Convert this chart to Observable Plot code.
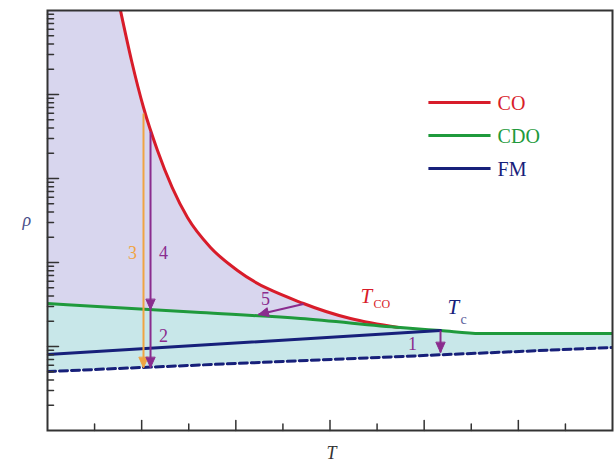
<!DOCTYPE html>
<html><head><meta charset="utf-8">
<script src="https://cdn.jsdelivr.net/npm/d3@7"></script>
<script src="https://cdn.jsdelivr.net/npm/@observablehq/plot@0.6"></script>
<style>body{margin:0;background:#fff}#chart{width:614px;height:467px}</style>
</head><body><div id="chart"></div>
<script>
// CO boundary (T_CO curve)
const coT   = [1.55, 1.784, 2.039, 2.336, 2.973, 3.462, 4.035, 5.437, 6.435, 7.455];
const coRho = [100000, 25400, 7000, 2154, 343, 151, 80.3, 32.5, 21.5, 16.8];
// CDO boundary
const cdoT   = [0, 3.248, 5.372, 7.495, 8.344, 9.193, 12];
const cdoRho = [32.5, 25.4, 21.5, 16.8, 15.5, 14.3, 14.3];
// FM boundary (solid up to Tc) and dashed continuation
const fmT   = [0, 8.344];
const fmRho = [8.03, 15.5];
const fmDashT   = [0, 12];
const fmDashRho = [5.04, 9.73];
// legend
const legendNames  = ["CO", "CDO", "FM"];
const legendColors = ["#d81c2a", "#1f9a3c", "#17207a"];
const legendRho    = [8030, 3250, 1316];
const legendT      = [8.09, 9.41, 9.56];
// arrows (process paths)
const arrowIds   = ["3", "4a", "4b", "5", "1"];
const arrowT1    = [2.039, 2.188, 2.188, 5.437, 8.347];
const arrowRho1  = [5940, 3600, 27.6, 32.0, 15.5];
const arrowT2    = [2.039, 2.188, 2.188, 4.481, 8.347];
const arrowRho2  = [5.62, 27.6, 5.62, 24.0, 8.48];
const arrowColor = ["#f0a442", "#8a2c8e", "#8a2c8e", "#8a2c8e", "#8a2c8e"];
const arrowRot   = [180, 180, 180, 256, 180];
// numbered labels
const numText = ["3", "4", "2", "1", "5"];
const numT    = [1.805, 2.464, 2.464, 7.752, 4.63];
const numRho  = [128, 128, 13.2, 10.6, 36.3];
const numCol  = ["#f0a442", "#8a2c8e", "#8a2c8e", "#8a2c8e", "#8a2c8e"];
// ticks
const xMajor = [2, 4, 6, 8, 10];
const xMinor = [1, 3, 5, 7, 9, 11];
const yMajor = [10, 100, 1000, 10000];
const yMinor = [];
for (const k of [1, 10, 100, 1000, 10000]) for (const m of [2,3,4,5,6,7,8,9]) yMinor.push(m * k);

const co = coT.map((t, i) => ({T: t, rho: coRho[i]}));
const lav = [{T: 0, rho: 100000}, ...co];
const cdo = cdoT.map((t, i) => ({T: t, rho: cdoRho[i]}));
const fm = fmT.map((t, i) => ({T: t, rho: fmRho[i]}));
const fmDash = fmDashT.map((t, i) => ({T: t, rho: fmDashRho[i]}));
const arrows = arrowIds.map((id, i) => ({id, x1: arrowT1[i], y1: arrowRho1[i], x2: arrowT2[i], y2: arrowRho2[i], c: arrowColor[i], r: arrowRot[i]}));
const nums = numText.map((t, i) => ({t, x: numT[i], y: numRho[i], c: numCol[i]}));
const legend = legendNames.map((n, i) => ({n, c: legendColors[i], y: legendRho[i]}));

const serif = "'Liberation Serif', 'Times New Roman', serif";
const lineShape = {draw(ctx, l) { ctx.moveTo(0, 0); ctx.lineTo(0, -l); }};
const triShape = {draw(ctx, l, r) { ctx.moveTo(-r, 0); ctx.lineTo(0, -l); ctx.lineTo(r, 0); ctx.closePath(); }};

const chart = Plot.plot({
  width: 614, height: 467,
  marginLeft: 47, marginRight: 2, marginTop: 10, marginBottom: 37,
  x: {domain: [0, 12], axis: null},
  y: {type: "log", domain: [1, 100000], axis: null},
  marks: [
    Plot.areaY(lav, {x: "T", y1: 1, y2: "rho", fill: "#d8d6ee", curve: "monotone-x", clip: true}),
    Plot.areaY(cdo, {x: "T", y1: 1, y2: "rho", fill: "#c8e7e9", curve: "monotone-x", clip: true}),
    Plot.areaY(fmDash, {x: "T", y1: 1, y2: "rho", fill: "#ffffff", clip: true}),
    Plot.line(co, {x: "T", y: "rho", stroke: "#d81c2a", strokeWidth: 3, curve: "monotone-x", clip: true}),
    Plot.line(cdo, {x: "T", y: "rho", stroke: "#1f9a3c", strokeWidth: 3, curve: "monotone-x", clip: true}),
    Plot.line(fm, {x: "T", y: "rho", stroke: "#17207a", strokeWidth: 3, clip: true}),
    Plot.line(fmDash, {x: "T", y: "rho", stroke: "#17207a", strokeWidth: 3, strokeDasharray: "8,4", clip: true}),
    // arrows
    Plot.link(arrows, {x1: "x1", y1: "y1", x2: "x2", y2: "y2", stroke: "c", strokeWidth: 2}),
    Plot.vector(arrows, {x: "x2", y: "y2", rotate: "r", length: 10, r: 4.5, anchor: "end", shape: triShape, fill: "c", stroke: "c", strokeWidth: 1}),
    // numbers
    Plot.text(nums, {x: "x", y: "y", text: "t", fill: "c", fontSize: 18, fontFamily: serif}),
    // T_CO
    Plot.text(["T"], {x: 6.648, y: 39.4, text: d => d, textAnchor: "start", fill: "#d81c2a", fontSize: 21, fontStyle: "italic", fontFamily: serif}),
    Plot.text(["CO"], {x: 6.924, y: 31.6, text: d => d, textAnchor: "start", fill: "#d81c2a", fontSize: 12, fontFamily: serif}),
    // T_c
    Plot.text(["T"], {x: 8.496, y: 29.1, text: d => d, textAnchor: "start", fill: "#17207a", fontSize: 21, fontStyle: "italic", fontFamily: serif}),
    Plot.text(["c"], {x: 8.772, y: 21.2, text: d => d, textAnchor: "start", fill: "#5a5d9a", fontSize: 14, fontFamily: serif}),
    // legend
    Plot.link(legend, {x1: legendT[0], x2: legendT[1], y1: "y", y2: "y", stroke: "c", strokeWidth: 3}),
    Plot.text(legend, {x: legendT[2], y: "y", text: "n", fill: "c", textAnchor: "start", fontSize: 20, fontFamily: serif, dy: 1}),
    // ticks
    Plot.vector(xMajor, {x: d => d, frameAnchor: "bottom", rotate: 0, length: 10, anchor: "start", shape: lineShape, stroke: "#333", strokeWidth: 1.5}),
    Plot.vector(xMinor, {x: d => d, frameAnchor: "bottom", rotate: 0, length: 6.5, anchor: "start", shape: lineShape, stroke: "#333", strokeWidth: 1.5}),
    Plot.vector(yMajor, {y: d => d, frameAnchor: "left", rotate: 90, length: 11, anchor: "start", shape: lineShape, stroke: "#333", strokeWidth: 1.5}),
    Plot.vector(yMinor, {y: d => d, frameAnchor: "left", rotate: 90, length: 6, anchor: "start", shape: lineShape, stroke: "#333", strokeWidth: 1.5}),
    Plot.frame({stroke: "#333", strokeWidth: 2}),
    // axis labels
    Plot.text(["T"], {x: 6.032, frameAnchor: "bottom", dy: 28, text: d => d, fontSize: 18, fontStyle: "italic", fontFamily: serif, fill: "#333"}),
    Plot.text(["ρ"], {frameAnchor: "left", dx: -25, text: d => d, fontSize: 18, fontStyle: "italic", fontFamily: serif, fill: "#4a4f8a"})
  ]
});
document.getElementById("chart").appendChild(chart);
</script>
</body></html>
